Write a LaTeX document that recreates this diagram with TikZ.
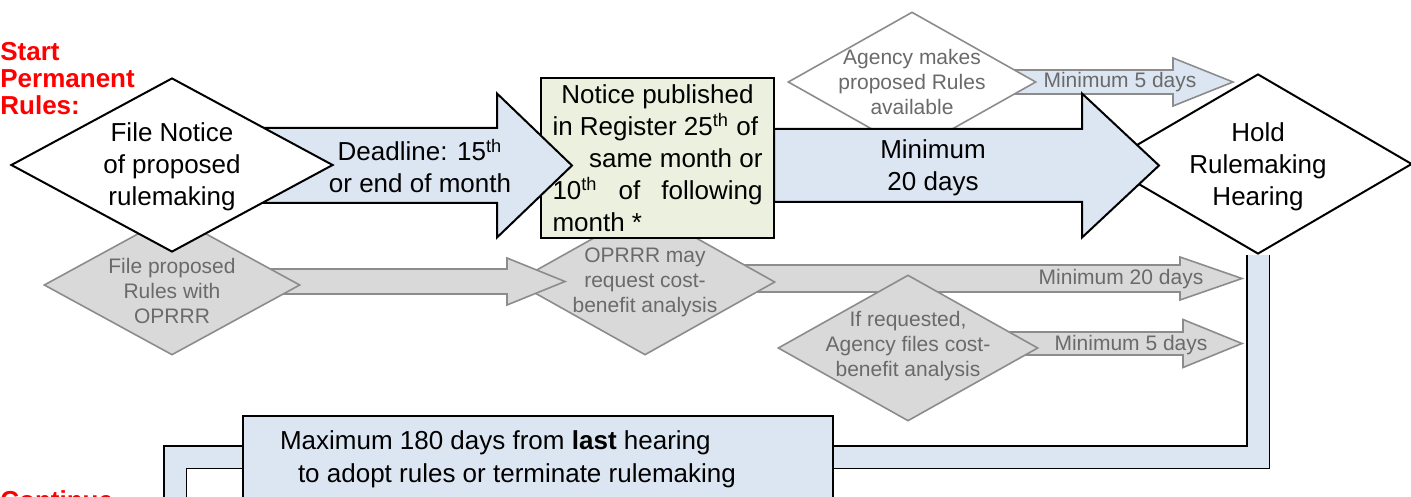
\documentclass[tikz,border=0pt]{standalone}
\usepackage{fontspec}
\setmainfont{Liberation Sans}
\usetikzlibrary{shapes.geometric, backgrounds}

\definecolor{arrowblue}{HTML}{DCE6F2}
\definecolor{notegreen}{HTML}{EBF1DE}
\definecolor{optgray}{HTML}{D9D9D9}
\definecolor{optline}{HTML}{8C8C8C}
\definecolor{opttext}{HTML}{6A6A6A}
\definecolor{startred}{HTML}{FF0000}

% block arrow: [style]{x tail}{x head}{x tip}{y}{half shaft}{half head}
\newcommand{\blockarrow}[7][]{%
  \draw[#1] (#2,#5-#6) -- (#3,#5-#6) -- (#3,#5-#7) -- (#4,#5)
    -- (#3,#5+#7) -- (#3,#5+#6) -- (#2,#5+#6) -- cycle;}

\begin{document}
\begin{tikzpicture}[
  x=0.5pt, y=-0.5pt, line join=miter,
  bigtext/.style={font=\fontsize{13}{16}\selectfont, align=center, inner sep=0pt},
  graytext/.style={font=\fontsize{10.5}{12.5}\selectfont, text=opttext, align=center, inner sep=0pt},
  redtext/.style={font=\fontsize{13}{13.5}\selectfont\bfseries, text=startred, align=left, inner sep=0pt},
  decision/.style={diamond, draw=black, line width=1pt, fill=white, inner sep=0pt},
  option/.style={diamond, draw=optline, line width=0.8pt, fill=optgray, inner sep=0pt},
  mainarrow/.style={draw=black, line width=1pt, fill=arrowblue},
  optarrow/.style={draw=optline, line width=0.8pt, fill=optgray},
  pipe/.style={draw=black, line width=0.8pt, double=arrowblue, double distance=10.5pt},
  ]
  \useasboundingbox (0,0) rectangle (1411,497);

  % grey side track
  \blockarrow[optarrow]{645}{1180}{1242}{278.5}{13.5}{21.5}
  \node[option, minimum width=130pt, minimum height=73pt] (oprrr) at (645,282) {};
  \node[graytext] (oprrr-txt) at (oprrr) {OPRRR may\\request cost-\\benefit analysis};
  \blockarrow[optarrow]{172}{507}{565}{281.5}{12.5}{23.5}
  \node[option, minimum width=128pt, minimum height=70pt] (filerules) at (172,285) {};
  \node[graytext] (filerules-txt) at (172,291) {File proposed\\Rules with\\OPRRR};
  \blockarrow[optarrow]{908}{1183}{1242}{343.5}{11.5}{24}
  \node[option, minimum width=130pt, minimum height=73pt] (costfile) at (908,348) {};
  \node[graytext] (costfile-txt) at (908,346) {If requested,\\Agency files cost-\\benefit analysis};
  \node[graytext] (min20) at (1121,279) {Minimum 20 days};
  \node[graytext] (min5) at (1131,345) {Minimum 5 days};

  \blockarrow[optarrow, fill=arrowblue]{912}{1173}{1233}{82}{12}{24}
  \node[decision, draw=optline, line width=0.8pt, minimum width=124pt, minimum height=70pt] (avail) at (912,82) {};
  \node[graytext] (avail-txt) at (avail) {Agency makes\\proposed Rules\\available};
  \node[graytext] (minavail) at (1120,82) {Minimum 5 days};

  % main track
  \node[draw=black, line width=1pt, fill=notegreen, font=\fontsize{13}{16}\selectfont,
        align=flush left, text width=105pt, inner xsep=5.75pt, minimum height=80pt] (notice) at (657.5,158)
    {\hfill Notice published\hfill\null\\
     in Register 25\textsuperscript{th} of\\
     \hfill same month or\\
     10\textsuperscript{th}\hfill of\hfill following\\
     month *};
  \blockarrow[mainarrow]{172}{497}{572}{165.5}{37.5}{72}
  \node[decision, minimum width=161pt, minimum height=87pt] (filenotice) at (172,165) {};
  \node[bigtext] (filenotice-txt) at (172,167) {File Notice\\of proposed\\rulemaking};
  \node[bigtext] (deadline) at (420,166) {Deadline: 15\textsuperscript{th}\\or end of month};

  \node[decision, minimum width=154pt, minimum height=90pt] (hold) at (1258,164) {};
  \node[bigtext] (hold-txt) at (1258,167) {Hold\\Rulemaking\\Hearing};
  \blockarrow[mainarrow]{774}{1082}{1159}{165.5}{36.5}{72}
  \node[bigtext] (wait20) at (933,168) {Minimum\\20 days};

  % after the hearing
  \coordinate (cont) at (175,540);
  \begin{scope}[on background layer]
    \draw[pipe] (hold.south) -- ++(0,202) -| (cont);
  \end{scope}
  \node[draw=black, line width=1pt, fill=arrowblue, font=\fontsize{13}{16.5}\selectfont,
        align=flush left, text width=258pt, inner xsep=18.5pt, minimum height=43pt] (maxbox) at (538,459)
    {Maximum 180 days from \textbf{last} hearing\\
     \hspace*{9pt}to adopt rules or terminate rulemaking};

  \node[redtext, anchor=north west] (start) at (0,42) {Start\\Permanent\\Rules:};
  \node[redtext, anchor=north west] (cont-txt) at (0,490) {Continue};
\end{tikzpicture}
\end{document}
